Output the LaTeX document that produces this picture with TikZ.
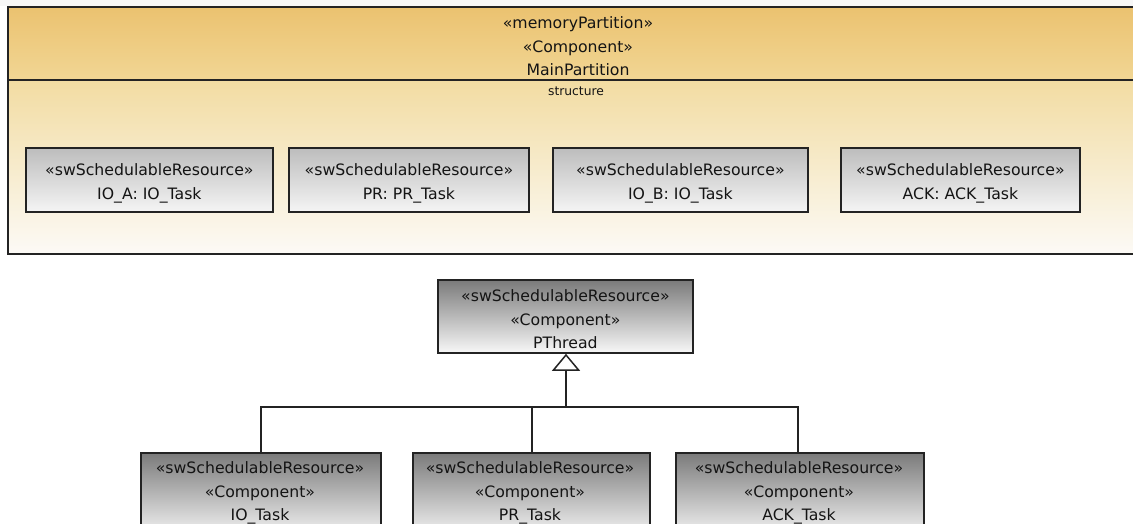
\documentclass[tikz,border=0pt]{standalone}
\usepackage{fontspec}
\setmainfont{DejaVu Sans}
\usetikzlibrary{arrows.meta}
\definecolor{hdrtop}{RGB}{235,194,112}
\definecolor{hdrbot}{RGB}{241,214,148}
\definecolor{bodytop}{RGB}{242,220,162}
\definecolor{bodybot}{RGB}{252,250,246}
\definecolor{edge}{RGB}{35,35,35}
\definecolor{txt}{RGB}{20,20,20}
\tikzset{
  lightbox/.style={draw=edge, line width=1.8pt, top color=black!26, bottom color=black!4, inner sep=0pt, anchor=north west},
  darkbox/.style={draw=edge, line width=1.8pt, top color=black!52, bottom color=black!3, inner sep=0pt, anchor=north west},
  lbl/.style={text=txt, align=center, inner sep=0pt, font=\fontsize{15.7}{23.5}\selectfont},
  genline/.style={draw=edge, line width=1.5pt},
  gentip/.style={-{Triangle[open, length=17pt, width=28pt, line width=1.5pt, fill=white]}}
}
\begin{document}
\begin{tikzpicture}[x=1pt,y=-1pt]
\useasboundingbox (0,0) rectangle (1133,524);
\fill[black!3] (0,0) rectangle (1133,6);
% outer partition
\shade[top color=hdrtop, bottom color=hdrbot] (8,7) rectangle (1140,80);
\shade[top color=bodytop, bottom color=bodybot] (8,80) rectangle (1140,254);
\draw[edge, line width=1.8pt] (1140,7) -- (8,7) -- (8,254) -- (1140,254);
\draw[edge, line width=1.6pt] (8,80) -- (1140,80);
\node[lbl] (mp) at (578,46.5) {«memoryPartition»\\«Component»\\MainPartition};
\node[lbl, font=\fontsize{12.3}{14}\selectfont] (st) at (576,91.5) {structure};
% parts
\node[lightbox, minimum width=247pt, minimum height=64pt] (ioa) at (25,147) {};
\node[lightbox, minimum width=240pt, minimum height=64pt] (pr) at (288,147) {};
\node[lightbox, minimum width=255pt, minimum height=64pt] (iob) at (552,147) {};
\node[lightbox, minimum width=239pt, minimum height=64pt] (ack) at (840,147) {};
\node[lbl] (ioal) at ([yshift=-3.5pt]ioa.center) {«swSchedulableResource»\\IO\_A: IO\_Task};
\node[lbl] (prl) at ([yshift=-3.5pt]pr.center) {«swSchedulableResource»\\PR: PR\_Task};
\node[lbl] (iobl) at ([yshift=-3.5pt]iob.center) {«swSchedulableResource»\\IO\_B: IO\_Task};
\node[lbl] (ackl) at ([yshift=-3.5pt]ack.center) {«swSchedulableResource»\\ACK: ACK\_Task};
% classes
\node[darkbox, minimum width=255pt, minimum height=73pt] (pth) at (437,279) {};
\node[lbl] (pthl) at ([yshift=-3pt]pth.center) {«swSchedulableResource»\\«Component»\\PThread};
\node[darkbox, minimum width=240pt, minimum height=86pt] (iot) at (140,452) {};
\node[darkbox, minimum width=237pt, minimum height=86pt] (prt) at (412,452) {};
\node[darkbox, minimum width=248pt, minimum height=86pt] (ackt) at (675,452) {};
\node[lbl] (iotl) at (260,493) {«swSchedulableResource»\\«Component»\\IO\_Task};
\node[lbl] (prtl) at (530,493) {«swSchedulableResource»\\«Component»\\PR\_Task};
\node[lbl] (acktl) at (799,493) {«swSchedulableResource»\\«Component»\\ACK\_Task};
% generalization tree
\coordinate (j) at (566,407);
\draw[genline] (iot.north -| 261,0) -- (261,407) -- (798,407) -- (ackt.north -| 798,0);
\draw[genline] (532,407) -- (prt.north -| 532,0);
\draw[genline, gentip] (j) -- (pth.south -| 566,0);
\end{tikzpicture}
\end{document}
